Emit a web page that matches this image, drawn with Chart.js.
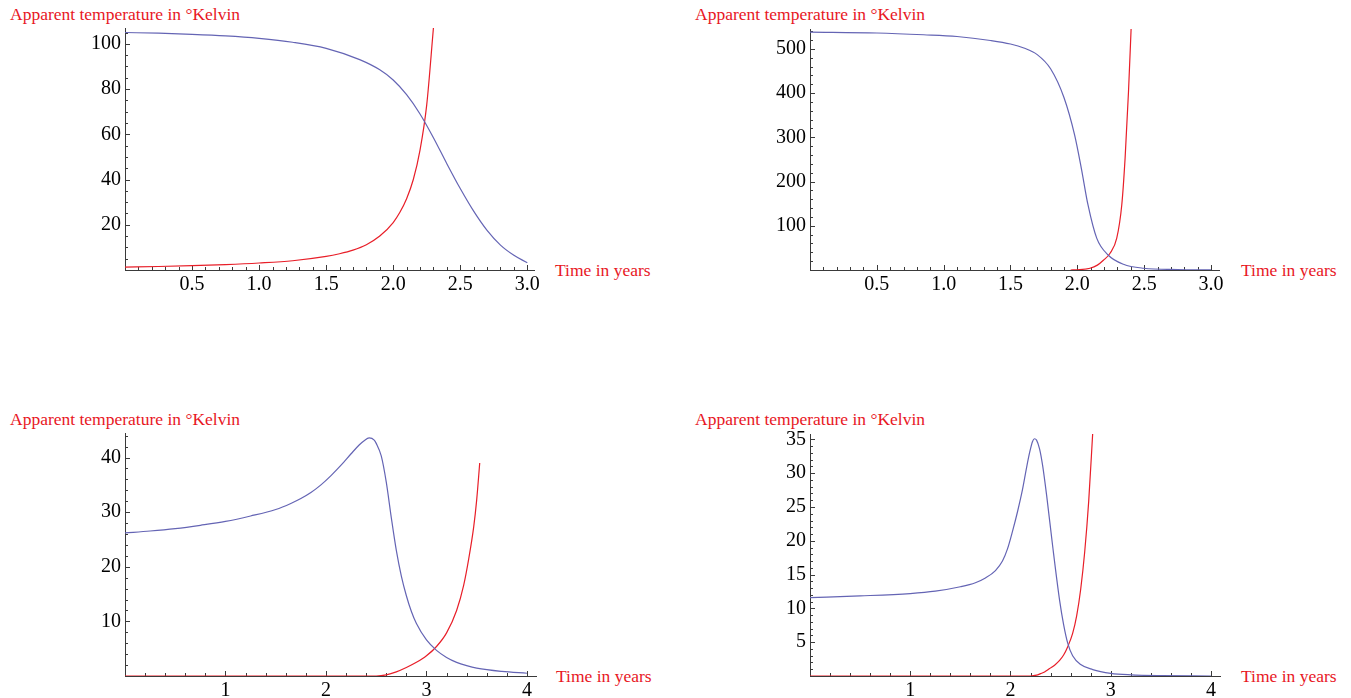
<!DOCTYPE html>
<html>
<head>
<meta charset="utf-8">
<script src="https://cdn.jsdelivr.net/npm/chart.js@4"></script>
<style>
  body { margin: 0; background: #fff; width: 1351px; height: 698px; position: relative; overflow: hidden; font-family: 'Liberation Serif', 'Times New Roman', serif; }
  .panel { position: absolute; }
  .lbl { position: absolute; color: #e8171f; font-size: 17.5px; line-height: 18px; white-space: nowrap; }
</style>
</head>
<body>
<div class="lbl" style="left:10px;top:5px">Apparent temperature in °Kelvin</div>
<div class="lbl" style="left:695px;top:5px">Apparent temperature in °Kelvin</div>
<div class="lbl" style="left:10px;top:410px">Apparent temperature in °Kelvin</div>
<div class="lbl" style="left:695px;top:410px">Apparent temperature in °Kelvin</div>
<div class="lbl" style="left:555px;top:261px">Time in years</div>
<div class="lbl" style="left:1241px;top:261px">Time in years</div>
<div class="lbl" style="left:556px;top:667px">Time in years</div>
<div class="lbl" style="left:1241px;top:667px">Time in years</div>
<script>
// panel 1 (top left)
const p1BlueT = [0, 0.25, 0.5, 0.75, 1.0, 1.25, 1.5, 1.75, 1.9, 2.0, 2.1, 2.2, 2.3, 2.4, 2.5, 2.6, 2.7, 2.8, 2.9, 3.0];
const p1Blue  = [105, 104.7, 104.2, 103.5, 102.4, 100.7, 98, 93, 88.5, 84, 77.5, 69, 58.5, 47, 36, 26, 17.5, 11, 6.5, 3.2];
const p1RedT  = [0, 0.25, 0.5, 0.75, 1.0, 1.25, 1.5, 1.6, 1.7, 1.8, 1.9, 2.0, 2.05, 2.1, 2.15, 2.2, 2.25, 2.3];
const p1Red   = [1.3, 1.55, 1.9, 2.4, 3.1, 4.1, 6.0, 7.2, 8.8, 11.2, 15, 21, 25.5, 31.5, 40, 53, 73, 107];
const p1XTicks = [0.5, 1.0, 1.5, 2.0, 2.5, 3.0];
const p1YTicks = [20, 40, 60, 80, 100];

// panel 2 (top right)
const p2BlueT = [0, 0.5, 0.85, 1.1, 1.35, 1.5, 1.6, 1.7, 1.8, 1.9, 1.98, 2.03, 2.08, 2.145, 2.23, 2.345, 2.495, 2.75, 3.0];
const p2Blue  = [538, 536, 532, 528, 519, 511, 502, 487, 455, 390, 305, 230, 147, 72, 34, 13, 4, 1, 0.3];
const p2RedT  = [1.95, 2.0, 2.095, 2.15, 2.195, 2.245, 2.295, 2.3325, 2.3575, 2.3825, 2.4025];
const p2Red   = [0, 0.5, 4, 11, 22, 38, 72, 147, 253, 401, 546];
const p2XTicks = [0.5, 1.0, 1.5, 2.0, 2.5, 3.0];
const p2YTicks = [100, 200, 300, 400, 500];

// panel 3 (bottom left)
const p3BlueT = [0, 0.25, 0.5, 0.75, 1.0, 1.25, 1.5, 1.65, 1.75, 1.85, 1.95, 2.05, 2.15, 2.25, 2.33, 2.38, 2.43, 2.48, 2.5, 2.55, 2.6, 2.65, 2.7, 2.75, 2.8, 2.85, 2.9, 3.0, 3.1, 3.2, 3.3, 3.4, 3.5, 3.75, 4.0];
const p3Blue  = [26.2, 26.55, 27.0, 27.6, 28.3, 29.3, 30.5, 31.6, 32.5, 33.6, 35.0, 36.7, 38.6, 40.7, 42.3, 43.1, 43.6, 43.2, 42.6, 40.3, 35.5, 29.0, 23.0, 18.3, 14.7, 11.8, 9.6, 6.6, 4.7, 3.4, 2.5, 1.9, 1.45, 0.85, 0.5];
const p3RedT  = [0, 2.5, 2.6, 2.7, 2.8, 2.9, 3.0, 3.1, 3.2, 3.3, 3.37, 3.42, 3.47, 3.5, 3.53];
const p3Red   = [0, 0, 0.2, 0.75, 1.55, 2.5, 3.7, 5.4, 7.9, 12.0, 16.6, 21.4, 27.3, 32.3, 39.0];
const p3XTicks = [1, 2, 3, 4];
const p3YTicks = [10, 20, 30, 40];

// panel 4 (bottom right)
const p4BlueT = [0, 0.5, 1.0, 1.25, 1.5, 1.65, 1.75, 1.85, 1.92, 1.97, 2.02, 2.07, 2.12, 2.16, 2.19, 2.22, 2.24, 2.26, 2.29, 2.32, 2.36, 2.42, 2.49, 2.53, 2.57, 2.62, 2.7, 2.82, 3.0, 3.2, 3.5, 4.0];
const p4Blue  = [11.6, 11.85, 12.2, 12.55, 13.2, 13.8, 14.5, 15.6, 17.0, 18.8, 21.4, 24.3, 27.6, 30.8, 33.0, 34.7, 35.1, 34.9, 33.6, 31.2, 26.8, 19.3, 11.2, 7.6, 4.9, 3.0, 1.7, 0.95, 0.4, 0.18, 0.06, 0];
const p4RedT  = [0, 2.2, 2.26, 2.3, 2.34, 2.39, 2.44, 2.49, 2.53, 2.57, 2.62, 2.66, 2.7, 2.74, 2.78, 2.82];
const p4Red   = [0, 0, 0.12, 0.35, 0.6, 1.1, 1.6, 2.3, 3.1, 4.3, 6.3, 8.9, 12.8, 18.3, 25.8, 35.9];
const p4XTicks = [1, 2, 3, 4];
const p4YTicks = [5, 10, 15, 20, 25, 30, 35];

const BLUE = 'rgb(100,100,180)';
const RED = 'rgb(232,30,40)';
const AXIS = '#3a3a3a';
const FONT = "'Liberation Serif', 'Times New Roman', serif";

// major + minor tick list, minor marks are unlabeled
function tickList(majors, minorStep, max) {
    const out = [];
    const n = Math.floor(max / minorStep + 1e-6);
    for (let i = 1; i <= n; i++) {
        const v = +(i * minorStep).toFixed(4);
        out.push({ value: v, isMajor: majors.some(m => Math.abs(m - v) < 1e-6) });
    }
    return out;
}

// inward tick marks like Mathematica
const tickMarks = {
    id: 'tickMarks',
    beforeDatasetsDraw(chart) {
        const { ctx, chartArea, scales: { x, y } } = chart;
        ctx.save();
        ctx.strokeStyle = AXIS;
        ctx.lineWidth = 1;
        ctx.beginPath();
        x.ticks.forEach(t => {
            const px = Math.round(x.getPixelForValue(t.value)) + 0.5;
            ctx.moveTo(px, chartArea.bottom);
            ctx.lineTo(px, chartArea.bottom - (t.isMajor ? 5 : 3));
        });
        y.ticks.forEach(t => {
            const py = Math.round(y.getPixelForValue(t.value)) + 0.5;
            ctx.moveTo(chartArea.left, py);
            ctx.lineTo(chartArea.left + (t.isMajor ? 5 : 3), py);
        });
        ctx.stroke();
        ctx.restore();
    }
};

function makePanel(p) {
    const padT = 24, padR = 24, yW = 70, xH = 34;
    const wrap = document.createElement('div');
    wrap.className = 'panel';
    wrap.style.left = (p.left - yW) + 'px';
    wrap.style.top = (p.top - padT) + 'px';
    wrap.style.width = (p.right - p.left + yW + padR) + 'px';
    wrap.style.height = (p.bottom - p.top + padT + xH) + 'px';
    const cv = document.createElement('canvas');
    wrap.appendChild(cv);
    document.body.appendChild(wrap);

    const line = (ts, vs, color) => ({
        data: ts.map((t, i) => ({ x: t, y: vs[i] })),
        borderColor: color,
        borderWidth: 1.2,
        pointRadius: 0,
        fill: false,
        cubicInterpolationMode: 'monotone'
    });

    const axisOpts = (max, majors, minorStep, dec, isX) => ({
        type: 'linear',
        min: 0,
        max: max,
        grid: { display: false, drawTicks: false },
        border: { display: true, color: AXIS, width: 1 },
        afterBuildTicks: s => { s.ticks = tickList(majors, minorStep, max); },
        afterFit: s => { if (isX) s.height = xH; else s.width = yW; },
        ticks: {
            autoSkip: false,
            maxRotation: 0,
            minRotation: 0,
            padding: isX ? 3 : 4,
            color: '#000',
            font: { family: FONT, size: 20 },
            callback: (v, i, ticks) => ticks[i].isMajor ? v.toFixed(dec) : ''
        }
    });

    new Chart(cv, {
        type: 'line',
        data: { datasets: [line(p.blueT, p.blue, BLUE), line(p.redT, p.red, RED)] },
        options: {
            responsive: true,
            maintainAspectRatio: false,
            animation: false,
            layout: { padding: { left: 0, top: padT, right: padR, bottom: 0 } },
            plugins: { legend: { display: false }, tooltip: { enabled: false } },
            scales: {
                x: axisOpts(p.xMax, p.xTicks, p.xMinor, p.xDec, true),
                y: axisOpts(p.yMax, p.yTicks, p.yMinor, 0, false)
            }
        },
        plugins: [tickMarks]
    });
}

makePanel({ left: 125, top: 28, right: 534, bottom: 270, xMax: 3.05, yMax: 107,
    xTicks: p1XTicks, xMinor: 0.1, xDec: 1, yTicks: p1YTicks, yMinor: 5,
    blueT: p1BlueT, blue: p1Blue, redT: p1RedT, red: p1Red });
makePanel({ left: 810, top: 29, right: 1219, bottom: 270, xMax: 3.06, yMax: 545,
    xTicks: p2XTicks, xMinor: 0.1, xDec: 1, yTicks: p2YTicks, yMinor: 20,
    blueT: p2BlueT, blue: p2Blue, redT: p2RedT, red: p2Red });
makePanel({ left: 125, top: 433, right: 536, bottom: 676, xMax: 4.09, yMax: 44.5,
    xTicks: p3XTicks, xMinor: 0.2, xDec: 0, yTicks: p3YTicks, yMinor: 2,
    blueT: p3BlueT, blue: p3Blue, redT: p3RedT, red: p3Red });
makePanel({ left: 810, top: 434, right: 1220, bottom: 676, xMax: 4.09, yMax: 35.8,
    xTicks: p4XTicks, xMinor: 0.2, xDec: 0, yTicks: p4YTicks, yMinor: 1,
    blueT: p4BlueT, blue: p4Blue, redT: p4RedT, red: p4Red });
</script>
</body>
</html>
